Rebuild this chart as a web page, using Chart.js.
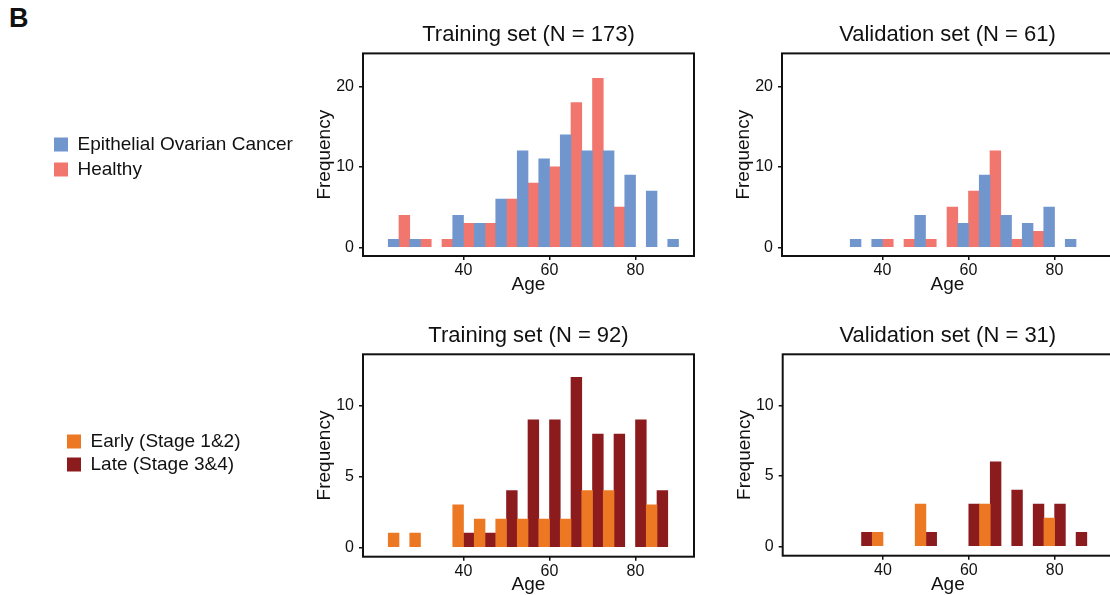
<!DOCTYPE html>
<html>
<head>
<meta charset="utf-8">
<title>Age distribution</title>
<script src="https://cdn.jsdelivr.net/npm/chart.js@4.4.1/dist/chart.umd.min.js"></script>
<style>
html,body{margin:0;padding:0;overflow:hidden;background:#fff}
#page{position:relative;width:1110px;height:595px;overflow:hidden}
canvas{position:absolute}
#tag{position:absolute;left:9px;top:3px;font:bold 27px "Liberation Sans",Arial,sans-serif;color:#111}
</style>
</head>
<body>
<div id="page">
<div id="tag">B</div>
<canvas id="legTop" width="260" height="160" style="left:48px;top:129px"></canvas>
<canvas id="legBottom" width="200" height="160" style="left:63px;top:428px"></canvas>
<canvas id="trainA" width="420" height="300" style="left:300px;top:0px"></canvas>
<canvas id="validA" width="395" height="300" style="left:720px;top:0px"></canvas>
<canvas id="trainB" width="420" height="300" style="left:300px;top:300px"></canvas>
<canvas id="validB" width="395" height="300" style="left:720px;top:300px"></canvas>
</div>
<script>
// age bins (centre of each 5-year bin)
const bins = [25, 30, 35, 40, 45, 50, 55, 60, 65, 70, 75, 80, 85, 90];

// cancer vs healthy
const trainCancer  = [1, 1, 0, 4, 3, 6, 12, 11, 14, 12, 12, 9, 7, 1];
const trainHealthy = [4, 1, 1, 3, 3, 6, 8, 10, 18, 21, 5, 0, 0, 0];
const validCancer  = [0, 0, 1, 1, 0, 4, 0, 3, 9, 4, 3, 5, 1, 0];
const validHealthy = [0, 0, 0, 1, 1, 1, 5, 7, 12, 1, 2, 0, 0, 0];

// early vs late stage
const trainEarly = [1, 1, 0, 3, 2, 2, 2, 2, 2, 4, 4, 0, 3, 0];
const trainLate  = [0, 0, 0, 1, 1, 4, 9, 9, 12, 8, 8, 9, 4, 0];
const validEarly = [0, 0, 0, 1, 0, 3, 0, 0, 3, 0, 0, 2, 0, 0];
const validLate  = [0, 0, 1, 0, 0, 1, 0, 3, 6, 4, 3, 3, 1, 0];

const groupLabelsA = ["Epithelial Ovarian Cancer", "Healthy"];
const groupLabelsB = ["Early (Stage 1&2)", "Late (Stage 3&4)"];
const colorsA = ["#7195CD", "#F1766E"];
const colorsB = ["#EC7823", "#8C1B1E"];

const xTicks = [40, 60, 80];
const yTicksA = [0, 10, 20];
const yTicksB = [0, 5, 10];

Chart.defaults.font.family = '"Liberation Sans", Arial, sans-serif';
Chart.defaults.color = "#111";

const frame = {
  id: "frame",
  afterDatasetsDraw(chart) {
    const {ctx, chartArea: a} = chart;
    ctx.save();
    ctx.strokeStyle = "#111";
    ctx.lineWidth = 2;
    ctx.strokeRect(a.left, a.top, a.right - a.left, a.bottom - a.top);
    ctx.restore();
  }
};

// empty bins are left out so no sliver is drawn on the baseline
function toPoints(vals) {
  return bins.map((b, i) => ({x: b, y: vals[i] === 0 ? null : vals[i]}));
}

function makePanel(id, title, series, labels, colors, yMin, yMax, yTicks, g) {
  new Chart(document.getElementById(id), {
    type: "bar",
    data: {
      datasets: series.map((s, i) => ({
        label: labels[i],
        data: toPoints(s),
        backgroundColor: colors[i],
        borderWidth: 0,
        categoryPercentage: 1,
        barPercentage: 1
      }))
    },
    options: {
      responsive: false,
      animation: false,
      events: [],
      layout: {padding: {left: 0, right: g.padR, top: 0, bottom: 0}},
      scales: {
        x: {
          type: "linear",
          min: 16.63,
          max: 93.6,
          offset: false,
          afterFit: s => { s.height = g.xH; },
          afterBuildTicks: s => { s.ticks = xTicks.map(v => ({value: v})); },
          ticks: {font: {size: 16}, padding: 1, maxRotation: 0},
          grid: {offset: false, drawOnChartArea: false, drawTicks: true, tickLength: 4, color: "#111", lineWidth: 1.5},
          border: {display: false},
          title: {display: true, text: "Age", font: {size: 19}, padding: {top: 0, bottom: 3.6}}
        },
        y: {
          min: yMin,
          max: yMax,
          afterFit: s => { s.width = g.yW; },
          afterBuildTicks: s => { s.ticks = yTicks.map(v => ({value: v})); },
          ticks: {font: {size: 16}, padding: 5},
          grid: {drawOnChartArea: false, drawTicks: true, tickLength: 4, color: "#111", lineWidth: 1.5},
          border: {display: false},
          title: {display: true, text: "Frequency", font: {size: 19}, padding: {top: g.yTitlePad, bottom: 0}}
        }
      },
      plugins: {
        legend: {display: false},
        tooltip: {enabled: false},
        title: {
          display: true,
          text: title,
          fullSize: false,
          color: "#111",
          font: {size: 22, weight: "normal"},
          padding: {top: g.tTop, bottom: g.tBottom}
        }
      }
    },
    plugins: [frame]
  });
}

function makeLegend(id, labels, colors, pad) {
  new Chart(document.getElementById(id), {
    type: "bar",
    data: {
      labels: [],
      datasets: labels.map((l, i) => ({label: l, data: [], backgroundColor: colors[i], borderWidth: 0}))
    },
    options: {
      responsive: false,
      animation: false,
      events: [],
      scales: {x: {display: false}, y: {display: false}},
      plugins: {
        tooltip: {enabled: false},
        legend: {
          position: "top",
          align: "start",
          maxHeight: 120,
          labels: {boxWidth: 14, boxHeight: 14, padding: pad, color: "#111", font: {size: 19}}
        }
      }
    }
  });
}

makeLegend("legTop", groupLabelsA, colorsA, 6);
makeLegend("legBottom", groupLabelsB, colorsB, 4);

makePanel("trainA", "Training set (N = 173)", [trainCancer, trainHealthy], groupLabelsA, colorsA,
  -1.06, 24.1, yTicksA, {yW: 63, padR: 26, xH: 44, tTop: 22, tBottom: 5, yTitlePad: 13.3});
makePanel("validA", "Validation set (N = 61)", [validCancer, validHealthy], groupLabelsA, colorsA,
  -1.06, 24.1, yTicksA, {yW: 62, padR: 2, xH: 44, tTop: 22, tBottom: 5, yTitlePad: 12});
makePanel("trainB", "Training set (N = 92)", [trainEarly, trainLate], groupLabelsB, colorsB,
  -0.66, 13.62, yTicksB, {yW: 63, padR: 26, xH: 43.3, tTop: 22.8, tBottom: 5.1, yTitlePad: 13.3});
makePanel("validB", "Validation set (N = 31)", [validEarly, validLate], groupLabelsB, colorsB,
  -0.66, 13.62, yTicksB, {yW: 62.7, padR: 2, xH: 44.3, tTop: 22.8, tBottom: 5.1, yTitlePad: 13});
</script>
</body>
</html>
